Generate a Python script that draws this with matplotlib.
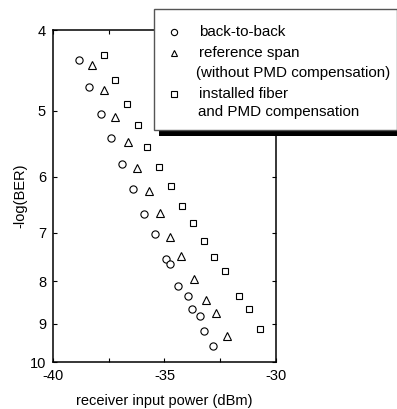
import matplotlib
matplotlib.use('Agg')
import matplotlib.pyplot as plt
import matplotlib.patches as patches
from matplotlib.lines import Line2D
from matplotlib.ticker import FixedLocator, MultipleLocator, FuncFormatter, NullLocator

plt.rcParams['font.family'] = ['Liberation Sans', 'DejaVu Sans']
plt.rcParams['axes.unicode_minus'] = False

# back-to-back
b2b_power = [-38.83, -38.39, -37.86, -37.39, -36.89, -36.41, -35.91, -35.41,
             -34.92, -34.77, -34.41, -33.93, -33.77, -33.42, -33.24, -32.83]
b2b_ber = [4.35, 4.68, 5.04, 5.39, 5.79, 6.21, 6.64, 7.03,
           7.53, 7.62, 8.11, 8.33, 8.65, 8.81, 9.18, 9.57]

# reference span (without PMD compensation)
ref_power = [-38.24, -37.70, -37.23, -36.65, -36.22, -35.68, -35.20, -34.74,
             -34.24, -33.69, -33.13, -32.67, -32.21]
ref_ber = [4.40, 4.72, 5.08, 5.45, 5.85, 6.24, 6.63, 7.08,
           7.47, 7.95, 8.42, 8.73, 9.31]

# installed fiber and PMD compensation
fib_power = [-37.73, -37.22, -36.68, -36.20, -35.77, -35.26, -34.71, -34.22,
             -33.72, -33.23, -32.79, -32.30, -31.67, -31.22, -30.72]
fib_ber = [4.28, 4.59, 4.90, 5.20, 5.53, 5.84, 6.16, 6.50,
           6.82, 7.16, 7.48, 7.78, 8.33, 8.64, 9.13]

y_ticks = [4, 5, 6, 7, 8, 9, 10]
x_labels = [-40, -35, -30]

fig = plt.figure(figsize=(3.97, 4.09), dpi=100)
ax = fig.add_axes([0.1335, 0.1149, 0.5617, 0.8117])

mk = dict(linestyle='none', markerfacecolor='white', markeredgecolor='black',
          markeredgewidth=0.8, color='black')
ax.plot(b2b_power, b2b_ber, marker='o', markersize=5.2, **mk)
ax.plot(ref_power, ref_ber, marker='^', markersize=5.5, **mk)
ax.plot(fib_power, fib_ber, marker='s', markersize=4.8, **mk)

ax.set_yscale('log')
ax.set_ylim(10, 4)
ax.set_xlim(-40, -30)
ax.yaxis.set_major_locator(FixedLocator(y_ticks))
ax.yaxis.set_minor_locator(NullLocator())
ax.yaxis.set_major_formatter(FuncFormatter(lambda v, p: '%d' % round(v)))
ax.xaxis.set_major_locator(MultipleLocator(2.5))
ax.xaxis.set_major_formatter(FuncFormatter(
    lambda v, p: '%d' % round(v) if round(v) in x_labels and abs(v - round(v)) < 1e-6 else ''))

ax.tick_params(direction='in', length=3, width=0.8, top=True, right=True,
               labelsize=10.5, pad=5, colors='black')
for s in ax.spines.values():
    s.set_linewidth(1.1)

ax.set_xlabel('receiver input power (dBm)', fontsize=10.5, labelpad=8)
ax.set_ylabel('-log(BER)', fontsize=10.5, labelpad=2)

# legend box drawn by hand (figure pixel coordinates, top-down)
W, H = 397.0, 409.0
def fx(px):
    return px / W
def fy(py):
    return 1 - py / H

shadow = patches.Rectangle((fx(159), fy(136)), fx(260), 6 / H, transform=fig.transFigure,
                           facecolor='black', edgecolor='none', zorder=5)
fig.add_artist(shadow)
box = patches.Rectangle((fx(153.5), fy(130)), fx(243), 121 / H, transform=fig.transFigure,
                        facecolor='white', edgecolor='#555555', linewidth=1.0, zorder=6)
fig.add_artist(box)

entries = [('o', 31.7, 4.5), ('^', 53, 5.0), ('s', 94, 4.3)]
for m, py, ms in entries:
    fig.add_artist(Line2D([fx(173.5)], [fy(py)], marker=m, markersize=ms,
                          transform=fig.transFigure, zorder=7, **mk))

lines = [(199, 31.7, 'back-to-back'), (199, 53.5, 'reference span'),
         (196, 72.5, '(without PMD compensation)'), (199, 94, 'installed fiber'),
         (198, 112, 'and PMD compensation')]
for px, py, t in lines:
    fig.text(fx(px), fy(py), t, fontsize=10.9, ha='left', va='center', zorder=8)

fig.savefig('out.png', dpi=100)
